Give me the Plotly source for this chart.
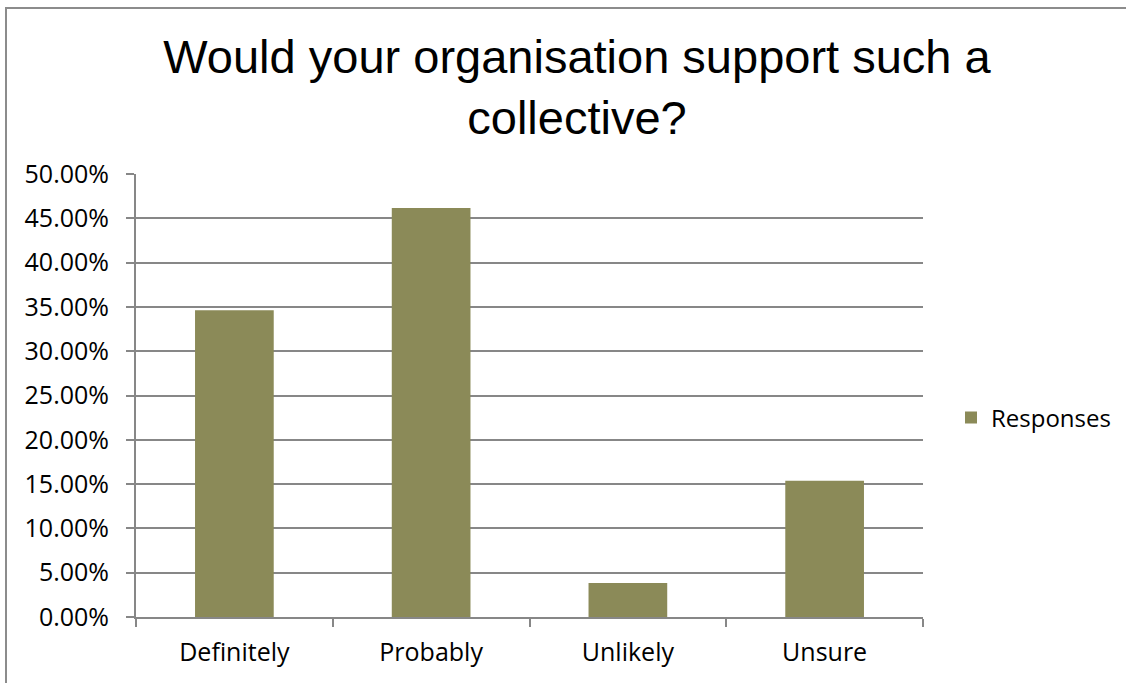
import plotly.graph_objects as go

# Survey answers and their share of responses
categories = ["Definitely", "Probably", "Unlikely", "Unsure"]
responses = [0.3462, 0.4615, 0.0385, 0.1538]
y_ticks = [0.0, 0.05, 0.10, 0.15, 0.20, 0.25, 0.30, 0.35, 0.40, 0.45, 0.50]

BAR = "#8b8a58"
GRID = "#878787"
LABEL_FONT = dict(family="Open Sans, Noto Sans, sans-serif", size=25, color="#000000")

fig = go.Figure(
    go.Bar(
        x=categories,
        y=responses,
        name="Responses",
        marker=dict(color=BAR, line=dict(width=0)),
        showlegend=True,
    )
)

# plot area geometry (pixels)
W, H = 1126, 683
L, R, T, B = 136, 923, 174, 617
pw, ph = R - L, B - T

fig.update_layout(
    width=W,
    height=H,
    margin=dict(l=L, r=W - R, t=T, b=H - B, pad=0, autoexpand=False),
    paper_bgcolor="white",
    plot_bgcolor="white",
    bargap=0.6,
    title=dict(
        text="Would your organisation support such a<br>collective?",
        font=dict(family="Liberation Sans, Arial, sans-serif", size=47, color="#000000"),
        x=577 / W,
        xanchor="center",
        xref="container",
        y=1 - 73 / H,
        yanchor="top",
        yref="container",
    ),
    legend=dict(
        x=(951 - L) / pw,
        xanchor="left",
        y=(B - 418) / ph,
        yanchor="middle",
        font=dict(LABEL_FONT, size=24),
        bgcolor="rgba(0,0,0,0)",
        itemwidth=30,
    ),
    xaxis=dict(
        type="category",
        showline=True,
        linecolor=GRID,
        linewidth=2,
        ticks="outside",
        tickson="boundaries",
        ticklen=8,
        tickcolor=GRID,
        tickwidth=2,
        showgrid=False,
        tickfont=LABEL_FONT,
        ticklabelstandoff=12,
    ),
    yaxis=dict(
        range=[0, 0.5],
        tickvals=y_ticks,
        tickformat=".2%",
        showline=True,
        linecolor=GRID,
        linewidth=2,
        ticks="outside",
        ticklen=8,
        tickcolor=GRID,
        tickwidth=2,
        showgrid=True,
        gridcolor=GRID,
        gridwidth=2,
        zeroline=False,
        tickfont=LABEL_FONT,
        ticklabelstandoff=12,
    ),
)

# chart frame around the whole figure
fig.add_shape(
    type="rect",
    xref="paper",
    yref="paper",
    x0=(6 - L) / pw,
    x1=(1140 - L) / pw,
    y0=(B - 700) / ph,
    y1=(B - 8) / ph,
    line=dict(color="#8c8c8c", width=2),
    fillcolor="rgba(0,0,0,0)",
    layer="below",
)

fig.write_html("out.html")
